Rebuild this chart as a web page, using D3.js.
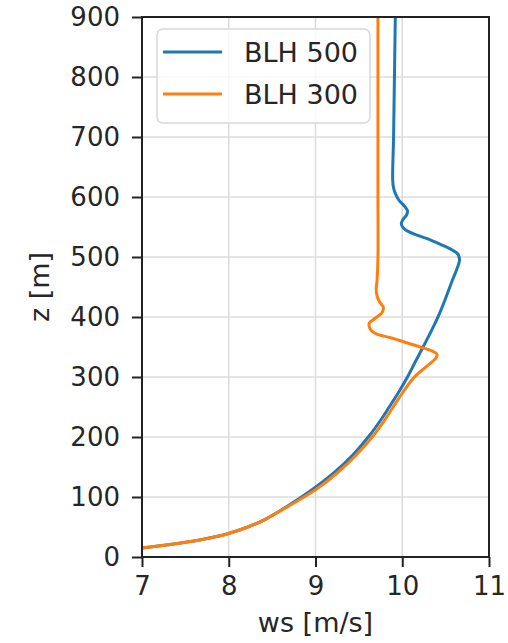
<!DOCTYPE html>
<html>
<head>
<meta charset="utf-8">
<script src="https://cdn.jsdelivr.net/npm/d3@7"></script>
<style>
  body { margin: 0; background: #fff; }
  text { font-family: "DejaVu Sans", sans-serif; fill: #262626; }
</style>
</head>
<body>
<div id="chart"></div>
<script>
// wind speed profiles (z in m, ws in m/s)
const zBlh500 = [12, 15, 20, 25, 30, 38, 50, 62, 84, 112, 140, 170, 202, 230, 250, 275, 300, 328, 350, 378, 406, 435, 462, 480, 495, 505, 512, 521, 531, 538, 545, 551, 556, 563, 570, 577, 584, 595, 606, 615, 628, 700, 800, 900];
const wsBlh500 = [6.8, 7.0, 7.28, 7.52, 7.72, 7.97, 8.22, 8.41, 8.67, 8.96, 9.21, 9.43, 9.62, 9.76, 9.85, 9.96, 10.06, 10.16, 10.24, 10.34, 10.43, 10.51, 10.58, 10.63, 10.66, 10.64, 10.57, 10.44, 10.28, 10.14, 10.04, 10.0, 9.99, 10.01, 10.05, 10.06, 10.03, 9.96, 9.92, 9.90, 9.89, 9.90, 9.91, 9.92];

const zBlh300 = [12, 15, 20, 25, 30, 38, 50, 62, 84, 112, 140, 170, 202, 230, 250, 275, 300, 320, 332, 338, 343, 349, 358, 366, 372, 378, 384, 390, 397, 406, 412, 417, 425, 435, 445, 462, 500, 600, 700, 800, 900];
const wsBlh300 = [6.8, 7.0, 7.28, 7.52, 7.72, 7.97, 8.22, 8.41, 8.68, 9.0, 9.25, 9.47, 9.665, 9.805, 9.895, 10.01, 10.14, 10.30, 10.39, 10.40, 10.35, 10.23, 10.03, 9.85, 9.70, 9.64, 9.62, 9.62, 9.68, 9.76, 9.78, 9.78, 9.74, 9.71, 9.70, 9.71, 9.72, 9.72, 9.72, 9.72, 9.72];

const seriesNames = ["BLH 500", "BLH 300"];
const seriesColors = ["#1f77b4", "#ff7f0e"];
const xTicks = [7, 8, 9, 10, 11];
const yTicks = [0, 100, 200, 300, 400, 500, 600, 700, 800, 900];

const width = 508, height = 643;
const margin = {top: 17, right: 19, bottom: 86, left: 142};
const innerW = width - margin.left - margin.right;
const innerH = height - margin.top - margin.bottom;

const svg = d3.select("#chart")
  .append("svg")
  .attr("width", width)
  .attr("height", height);

const g = svg.append("g")
  .attr("transform", `translate(${margin.left},${margin.top})`);

const x = d3.scaleLinear().domain([7, 11]).range([0, innerW]);
const y = d3.scaleLinear().domain([0, 900]).range([innerH, 0]);

// grid
g.append("g")
  .selectAll("line")
  .data(xTicks)
  .join("line")
  .attr("x1", d => x(d)).attr("x2", d => x(d))
  .attr("y1", 0).attr("y2", innerH)
  .attr("stroke", "#dcdcdc").attr("stroke-width", 1.5);

g.append("g")
  .selectAll("line")
  .data(yTicks)
  .join("line")
  .attr("x1", 0).attr("x2", innerW)
  .attr("y1", d => y(d)).attr("y2", d => y(d))
  .attr("stroke", "#dcdcdc").attr("stroke-width", 1.5);

g.append("clipPath").attr("id", "clip")
  .append("rect").attr("width", innerW).attr("height", innerH);

const line = d3.line()
  .x(d => x(d[1]))
  .y(d => y(d[0]))
  .curve(d3.curveCatmullRom.alpha(0.5));

const series = [
  d3.zip(zBlh500, wsBlh500),
  d3.zip(zBlh300, wsBlh300)
];

g.append("g")
  .attr("clip-path", "url(#clip)")
  .selectAll("path")
  .data(series)
  .join("path")
  .attr("d", line)
  .attr("fill", "none")
  .attr("stroke", (d, i) => seriesColors[i])
  .attr("stroke-width", 3)
  .attr("stroke-linejoin", "round");

// axes
const xAxis = g.append("g")
  .attr("transform", `translate(0,${innerH})`)
  .call(d3.axisBottom(x).tickValues(xTicks).tickSize(10).tickPadding(10).tickFormat(d3.format("d")));

const yAxis = g.append("g")
  .call(d3.axisLeft(y).tickValues(yTicks).tickSize(10).tickPadding(12).tickFormat(d3.format("d")));

[xAxis, yAxis].forEach(a => {
  a.select(".domain").remove();
  a.selectAll(".tick line").attr("stroke", "#222").attr("stroke-width", 2);
  a.selectAll(".tick text").attr("font-size", 26).attr("fill", "#262626");
});

// frame
g.append("rect")
  .attr("width", innerW).attr("height", innerH)
  .attr("fill", "none")
  .attr("stroke", "#222").attr("stroke-width", 2);

svg.append("text")
  .attr("x", margin.left + innerW / 2)
  .attr("y", 632)
  .attr("text-anchor", "middle")
  .attr("font-size", 27)
  .text("ws [m/s]");

svg.append("text")
  .attr("transform", `translate(49,${margin.top + innerH / 2}) rotate(-90)`)
  .attr("text-anchor", "middle")
  .attr("font-size", 27)
  .text("z [m]");

// legend
const legend = g.append("g").attr("transform", "translate(15,12)");
legend.append("rect")
  .attr("width", 213).attr("height", 94).attr("rx", 6)
  .attr("fill", "#fff").attr("fill-opacity", 0.8)
  .attr("stroke", "#d8d8d8").attr("stroke-width", 1.5);

const items = legend.selectAll(".item")
  .data(seriesNames)
  .join("g")
  .attr("class", "item")
  .attr("transform", (d, i) => `translate(0,${23 + i * 42})`);

items.append("line")
  .attr("x1", 6).attr("x2", 65)
  .attr("stroke", (d, i) => seriesColors[i])
  .attr("stroke-width", 3);

items.append("text")
  .attr("x", 87)
  .attr("dy", "0.36em")
  .attr("font-size", 27)
  .text(d => d);
</script>
</body>
</html>
